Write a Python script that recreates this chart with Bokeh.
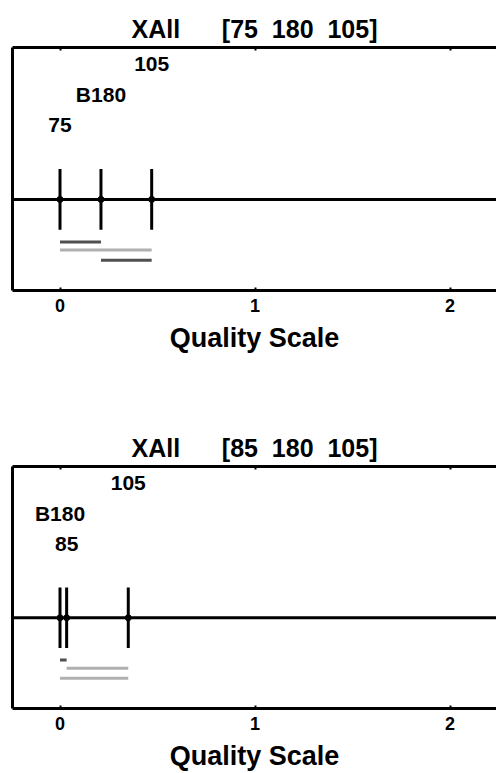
from bokeh.plotting import figure
from bokeh.layouts import column
from bokeh.models import Range1d, LinearAxis, FixedTicker, Span, ColumnDataSource
from bokeh.core.properties import value
from bokeh.embed import file_html
from bokeh.resources import INLINE

# ---- data ----
tick_values = [0, 1, 2]
tick_labels = ["0", "1", "2"]
x_label = "Quality Scale"

title1 = "XAll      [75  180  105]"
labels1 = ["75", "B180", "105"]
scores1 = [0.0, 0.21, 0.47]
pairs1 = [(0, 1), (0, 2), (1, 2)]
sig1 = [True, False, True]

title2 = "XAll      [85  180  105]"
labels2 = ["85", "B180", "105"]
scores2 = [0.034, 0.0, 0.35]
pairs2 = [(0, 1), (0, 2), (1, 2)]
sig2 = [True, False, False]

FONT = "Liberation Sans"
DARK = "#505050"
LIGHT = "#b0b0b0"


def make_panel(title, labels, scores, pairs, sig, height, bottom):
    p = figure(width=496, height=height,
               x_range=Range1d(-0.2436, 2.238), y_range=Range1d(-3, 5),
               output_backend="svg", toolbar_location=None,
               min_border_left=12, min_border_right=0,
               min_border_top=47, min_border_bottom=bottom,
               x_axis_location="below")
    p.grid.visible = False
    p.outline_line_color = None
    p.background_fill_color = "white"
    p.border_fill_color = "white"

    # title (non-breaking spaces keep the gaps)
    p.title.text = title.replace(" ", "\u00a0")
    p.title.align = "center"
    p.title.text_font = FONT
    p.title.text_font_size = "25px"
    p.title.text_font_style = "bold"
    p.title.text_color = "black"
    p.title.standoff = 9
    p.title.offset = 0

    # bottom axis
    ax = p.xaxis[0]
    ax.ticker = FixedTicker(ticks=tick_values)
    ax.major_label_overrides = {v: s for v, s in zip(tick_values, tick_labels)}
    ax.axis_line_width = 3
    ax.axis_line_color = "black"
    ax.major_tick_in = 3
    ax.major_tick_out = 0
    ax.major_tick_line_width = 2
    ax.major_tick_line_color = "black"
    ax.minor_tick_line_color = None
    ax.major_label_text_font = FONT
    ax.major_label_text_font_style = "bold"
    ax.major_label_text_font_size = "18px"
    ax.major_label_text_color = "black"
    ax.major_label_standoff = 8
    ax.axis_label = x_label
    ax.axis_label_text_font = FONT
    ax.axis_label_text_font_style = "bold"
    ax.axis_label_text_font_size = "27px"
    ax.axis_label_text_color = "black"
    ax.axis_label_standoff = 8

    # top axis: ticks only
    top = LinearAxis(ticker=FixedTicker(ticks=tick_values))
    top.major_label_overrides = {v: "" for v in tick_values}
    top.axis_line_width = 3
    top.axis_line_color = "black"
    top.major_tick_in = 3
    top.major_tick_out = 0
    top.major_tick_line_width = 2
    top.major_tick_line_color = "black"
    top.minor_tick_line_color = None
    top.major_label_standoff = 0
    p.add_layout(top, "above")

    # left axis: line only
    ya = p.yaxis[0]
    ya.ticker = FixedTicker(ticks=[])
    ya.axis_line_width = 3
    ya.axis_line_color = "black"
    ya.major_tick_line_color = None
    ya.minor_tick_line_color = None
    ya.major_label_standoff = 0

    # central line
    p.add_layout(Span(location=0, dimension="width", line_color="black", line_width=3))

    # vertical marks
    p.segment(x0=scores, y0=[-1] * len(scores), x1=scores, y1=[1] * len(scores),
              line_color="black", line_width=3)
    p.scatter(x=scores, y=[0] * len(scores), size=6, color="black")

    # labels at stacked levels
    levels = [2.45 + i for i in range(len(labels))]
    p.text(x=scores, y=levels, text=labels, text_font=value(FONT),
           text_font_style="bold", text_font_size="21px",
           text_align="center", text_baseline="middle", text_color="black")

    # comparison bars
    ys = [-1.4, -1.67, -2.0]
    x0 = [scores[a] for a, b in pairs]
    x1 = [scores[b] for a, b in pairs]
    cols = [DARK if s else LIGHT for s in sig]
    src = ColumnDataSource(dict(x0=x0, x1=x1, y=ys, c=cols))
    p.segment(x0="x0", y0="y", x1="x1", y1="y", line_color="c", line_width=3, source=src)
    return p


p1 = make_panel(title1, labels1, scores1, pairs1, sig1, 419, 129)
p2 = make_panel(title2, labels2, scores2, pairs2, sig2, 354, 64)

layout = column(p1, p2, spacing=0)
open("out.html", "w").write(file_html(layout, INLINE))
